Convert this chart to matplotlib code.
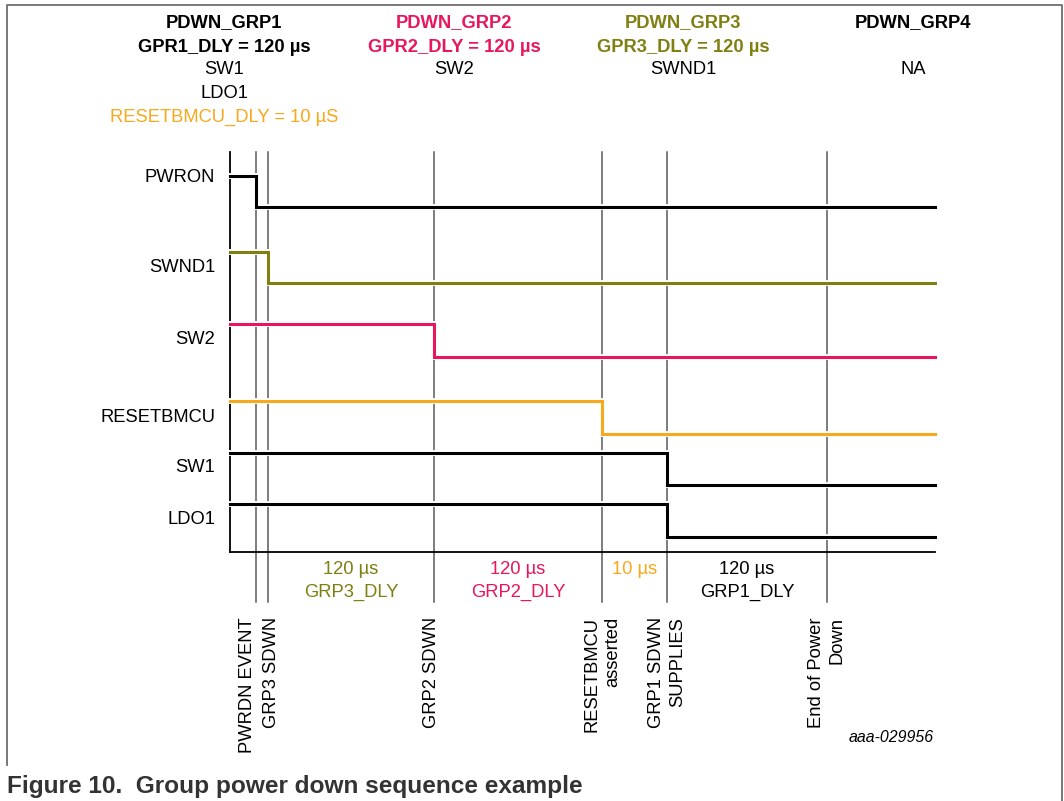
import matplotlib
matplotlib.use("Agg")
import matplotlib.pyplot as plt
import matplotlib.patheffects as pe

plt.rcParams['font.family'] = ['Liberation Sans', 'DejaVu Sans']

# colours used in the timing diagram
BLACK = "#000000"
OLIVE = "#7f7f12"
CRIMSON = "#e8175d"
ORANGE = "#f7a81b"
GRID = "#5a5a5a"

# group headers
group_names = ["PDWN_GRP1", "PDWN_GRP2", "PDWN_GRP3", "PDWN_GRP4"]
group_delays = ["GPR1_DLY = 120 µs", "GPR2_DLY = 120 µs", "GPR3_DLY = 120 µs", ""]
group_members = [["SW1", "LDO1"], ["SW2"], ["SWND1"], ["NA"]]
group_colors = [BLACK, CRIMSON, OLIVE, BLACK]
group_x = [224, 454, 683, 913]

# events along the time axis (diagram units, not to scale)
event_names = ["PWRDN EVENT", "GRP3 SDWN", "GRP2 SDWN", "RESETBMCU\nasserted",
               "GRP1 SDWN\nSUPPLIES", "End of Power\nDown"]
event_t = [256, 268, 434, 602, 667, 827]
event_label_dx = [-8, 4, -2, 0, 0, 0]
t_start = 230
t_end = 935

# signals: name, high level, low level, time of falling edge
signal_names = ["PWRON", "SWND1", "SW2", "RESETBMCU", "SW1", "LDO1"]
signal_high = [176, 252, 324, 401, 453, 504]
signal_low = [207, 283, 357, 434, 485, 537]
signal_fall = [256, 268, 434, 602, 667, 667]
signal_label_y = [177, 267, 340, 417, 468, 519]
signal_colors = [BLACK, OLIVE, CRIMSON, ORANGE, BLACK, BLACK]

# delay annotations between events
delay_from = [268, 434, 602, 667]
delay_to = [434, 602, 667, 827]
delay_value = ["120 µs", "120 µs", "10 µs", "120 µs"]
delay_name = ["GRP3_DLY", "GRP2_DLY", "", "GRP1_DLY"]
delay_colors = [OLIVE, CRIMSON, ORANGE, BLACK]

FS = 13.2

fig = plt.figure(figsize=(10.64, 8.01), dpi=100)
ax = fig.add_axes([0, 0, 1, 1])
ax.set_xlim(0, 1064)
ax.set_ylim(801, 0)
ax.axis("off")

# frame
ax.plot([7, 7, 1062, 1062], [765, 5, 5, 801], color="#6e6e6e", lw=1.3)

# headers
for i in range(len(group_names)):
    x = group_x[i]
    ax.text(x, 23, group_names[i], ha="center", va="center", fontsize=FS,
            fontweight="bold", color=group_colors[i])
    if group_delays[i]:
        ax.text(x, 47, group_delays[i], ha="center", va="center", fontsize=FS,
                fontweight="bold", color=group_colors[i])
    for j, m in enumerate(group_members[i]):
        ax.text(x, 70 + 23.5 * j, m, ha="center", va="center", fontsize=FS, color=BLACK)
ax.text(group_x[0], 117, "RESETBMCU_DLY = 10 µS", ha="center", va="center",
        fontsize=FS, color=ORANGE)

# event lines and axes
for t in event_t:
    ax.plot([t, t], [152, 602], color=GRID, lw=1.1, zorder=1)
ax.plot([t_start, t_start], [152, 552], color=BLACK, lw=1.3, zorder=2)
ax.plot([t_start, t_end], [552, 552], color=BLACK, lw=1.3, zorder=2)

# signals
for i in range(len(signal_names)):
    xs = [t_start, signal_fall[i], signal_fall[i], t_end]
    ys = [signal_high[i], signal_high[i], signal_low[i], signal_low[i]]
    ax.plot(xs, ys, color=signal_colors[i], lw=2.2, zorder=3,
            solid_joinstyle="miter",
            path_effects=[pe.Stroke(linewidth=4.2, foreground="white"), pe.Normal()])
    ax.text(215, signal_label_y[i], signal_names[i], ha="right", va="center",
            fontsize=FS, color=BLACK)

# delay labels
for i in range(len(delay_value)):
    xm = (delay_from[i] + delay_to[i]) / 2
    ax.text(xm, 570, delay_value[i], ha="center", va="center", fontsize=FS,
            color=delay_colors[i])
    if delay_name[i]:
        ax.text(xm, 592, delay_name[i], ha="center", va="center", fontsize=FS,
                color=delay_colors[i])

# event labels
for i in range(len(event_names)):
    ax.text(event_t[i] + event_label_dx[i], 617, event_names[i], rotation=90,
            ha="center", va="top", multialignment="right", fontsize=FS,
            color=BLACK, linespacing=1.3)

ax.text(934, 737, "aaa-029956", ha="right", va="center", fontsize=11.4,
        style="italic", color=BLACK)

ax.text(7, 786, "Figure 10.  Group power down sequence example", ha="left",
        va="center", fontsize=17.6, fontweight="bold", color="#333333")

fig.savefig("out.png", dpi=100)
